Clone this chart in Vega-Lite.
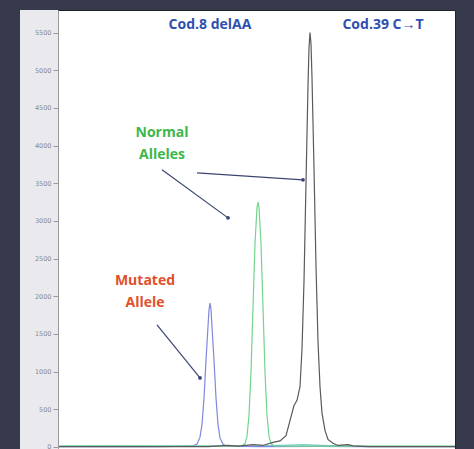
{
  "$schema": "https://vega.github.io/schema/vega-lite/v6.json",
  "width": 435,
  "height": 439,
  "autosize": {"type": "none"},
  "padding": {"left": 20, "top": 10, "right": 19, "bottom": 0},
  "background": "#363a4c",
  "config": {"view": {"fill": "white", "stroke": "#222", "strokeWidth": 1}},
  "datasets": {
    "strip": [{"x": -38, "x2": 0, "y": -27, "y2": 5800}],
    "traces": [
      {"dye": "teal", "x": 0, "v": 12}, {"dye": "teal", "x": 60, "v": 14}, {"dye": "teal", "x": 120, "v": 10}, {"dye": "teal", "x": 190, "v": 12}, {"dye": "teal", "x": 232, "v": 25}, {"dye": "teal", "x": 245, "v": 30}, {"dye": "teal", "x": 262, "v": 20}, {"dye": "teal", "x": 300, "v": 8}, {"dye": "teal", "x": 397, "v": 8},
      {"dye": "blue", "x": 0, "v": 5}, {"dye": "blue", "x": 100, "v": 5}, {"dye": "blue", "x": 134, "v": 10}, {"dye": "blue", "x": 139, "v": 40}, {"dye": "blue", "x": 142, "v": 130}, {"dye": "blue", "x": 144, "v": 300}, {"dye": "blue", "x": 146, "v": 650}, {"dye": "blue", "x": 148, "v": 1150}, {"dye": "blue", "x": 150, "v": 1600}, {"dye": "blue", "x": 151, "v": 1820}, {"dye": "blue", "x": 152, "v": 1910}, {"dye": "blue", "x": 153, "v": 1830}, {"dye": "blue", "x": 154, "v": 1600}, {"dye": "blue", "x": 156, "v": 1150}, {"dye": "blue", "x": 158, "v": 650}, {"dye": "blue", "x": 160, "v": 300}, {"dye": "blue", "x": 162, "v": 120}, {"dye": "blue", "x": 165, "v": 35}, {"dye": "blue", "x": 169, "v": 10}, {"dye": "blue", "x": 200, "v": 5}, {"dye": "blue", "x": 260, "v": 8}, {"dye": "blue", "x": 300, "v": 5}, {"dye": "blue", "x": 397, "v": 5},
      {"dye": "green", "x": 0, "v": 10}, {"dye": "green", "x": 150, "v": 10}, {"dye": "green", "x": 184, "v": 15}, {"dye": "green", "x": 187, "v": 45}, {"dye": "green", "x": 189, "v": 140}, {"dye": "green", "x": 191, "v": 420}, {"dye": "green", "x": 193, "v": 1000}, {"dye": "green", "x": 195, "v": 1850}, {"dye": "green", "x": 197, "v": 2700}, {"dye": "green", "x": 199, "v": 3180}, {"dye": "green", "x": 200, "v": 3250}, {"dye": "green", "x": 201, "v": 3180}, {"dye": "green", "x": 203, "v": 2700}, {"dye": "green", "x": 205, "v": 1850}, {"dye": "green", "x": 207, "v": 1000}, {"dye": "green", "x": 209, "v": 420}, {"dye": "green", "x": 211, "v": 140}, {"dye": "green", "x": 213, "v": 45}, {"dye": "green", "x": 216, "v": 15}, {"dye": "green", "x": 240, "v": 10}, {"dye": "green", "x": 397, "v": 10},
      {"dye": "black", "x": 0, "v": 5}, {"dye": "black", "x": 150, "v": 5}, {"dye": "black", "x": 170, "v": 20}, {"dye": "black", "x": 180, "v": 10}, {"dye": "black", "x": 195, "v": 30}, {"dye": "black", "x": 205, "v": 20}, {"dye": "black", "x": 215, "v": 60}, {"dye": "black", "x": 222, "v": 80}, {"dye": "black", "x": 228, "v": 150}, {"dye": "black", "x": 232, "v": 350}, {"dye": "black", "x": 236, "v": 550}, {"dye": "black", "x": 239, "v": 620}, {"dye": "black", "x": 242, "v": 800}, {"dye": "black", "x": 244, "v": 1300}, {"dye": "black", "x": 246, "v": 2200}, {"dye": "black", "x": 248, "v": 3500}, {"dye": "black", "x": 250, "v": 4800}, {"dye": "black", "x": 251, "v": 5300}, {"dye": "black", "x": 252, "v": 5500}, {"dye": "black", "x": 253, "v": 5350}, {"dye": "black", "x": 254, "v": 4900}, {"dye": "black", "x": 256, "v": 3700}, {"dye": "black", "x": 258, "v": 2400}, {"dye": "black", "x": 260, "v": 1400}, {"dye": "black", "x": 262, "v": 800}, {"dye": "black", "x": 264, "v": 450}, {"dye": "black", "x": 267, "v": 220}, {"dye": "black", "x": 270, "v": 100}, {"dye": "black", "x": 275, "v": 50}, {"dye": "black", "x": 280, "v": 20}, {"dye": "black", "x": 290, "v": 30}, {"dye": "black", "x": 295, "v": 15}, {"dye": "black", "x": 310, "v": 5}, {"dye": "black", "x": 397, "v": 5}
    ],
    "arrows": [
      {"x": 104, "y": 3679, "x2": 170, "y2": 3041},
      {"x": 139, "y": 3639, "x2": 245, "y2": 3546},
      {"x": 99, "y": 1620, "x2": 142, "y2": 916}
    ],
    "labels": [
      {"x": 152, "y": 5604, "text": "Cod.8 delAA", "kind": "site"},
      {"x": 325, "y": 5604, "text": "Cod.39 C→T", "kind": "site"},
      {"x": 104, "y": 4170, "text": "Normal", "kind": "normal"},
      {"x": 104, "y": 3878, "text": "Alleles", "kind": "normal"},
      {"x": 87, "y": 2205, "text": "Mutated", "kind": "mutated"},
      {"x": 87, "y": 1912, "text": "Allele", "kind": "mutated"}
    ]
  },
  "layer": [
    {
      "data": {"name": "strip"},
      "mark": {"type": "rect", "fill": "#e9e9ee"},
      "encoding": {
        "x": {"field": "x", "type": "quantitative", "scale": {"domain": [-38, 397], "nice": false, "zero": false}, "axis": null},
        "x2": {"field": "x2"},
        "y": {"field": "y", "type": "quantitative", "scale": {"domain": [-27, 5800], "nice": false, "zero": false},
          "axis": {"orient": "left", "offset": -38, "zindex": 1, "values": [0, 500, 1000, 1500, 2000, 2500, 3000, 3500, 4000, 4500, 5000, 5500], "format": "d", "labelOverlap": false, "labelFlush": false, "grid": false, "title": null, "domainColor": "#999", "tickColor": "#999", "tickSize": 5, "labelFontSize": 6.5, "labelColor": "#8a8a8a", "labelPadding": 2, "labelFont": "DejaVu Sans"}},
        "y2": {"field": "y2"}
      }
    },
    {
      "data": {"name": "traces"},
      "mark": {"type": "line", "strokeWidth": 1.2, "clip": true},
      "encoding": {
        "x": {"field": "x", "type": "quantitative", "axis": null},
        "y": {"field": "v", "type": "quantitative",
          "axis": {"orient": "left", "offset": -38, "zindex": 1, "values": [0, 500, 1000, 1500, 2000, 2500, 3000, 3500, 4000, 4500, 5000, 5500], "format": "d", "labelOverlap": false, "labelFlush": false, "grid": false, "title": null, "domainColor": "#999", "tickColor": "#999", "tickSize": 5, "labelFontSize": 6.5, "labelColor": "#8a8a8a", "labelPadding": 2, "labelFont": "DejaVu Sans"}},
        "color": {"field": "dye", "type": "nominal", "scale": {"domain": ["teal", "blue", "green", "black"], "range": ["#6fd0c8", "#7f88dc", "#74d48e", "#5a5a5a"]}, "legend": null},
        "order": {"field": "x", "type": "quantitative"}
      }
    },
    {
      "data": {"name": "arrows"},
      "mark": {"type": "rule", "color": "#3a4670", "strokeWidth": 1.2},
      "encoding": {
        "x": {"field": "x", "type": "quantitative", "axis": null},
        "y": {"field": "y", "type": "quantitative",
          "axis": {"orient": "left", "offset": -38, "zindex": 1, "values": [0, 500, 1000, 1500, 2000, 2500, 3000, 3500, 4000, 4500, 5000, 5500], "format": "d", "labelOverlap": false, "labelFlush": false, "grid": false, "title": null, "domainColor": "#999", "tickColor": "#999", "tickSize": 5, "labelFontSize": 6.5, "labelColor": "#8a8a8a", "labelPadding": 2, "labelFont": "DejaVu Sans"}},
        "x2": {"field": "x2"},
        "y2": {"field": "y2"}
      }
    },
    {
      "data": {"name": "arrows"},
      "mark": {"type": "point", "filled": true, "color": "#3a4670", "size": 14, "opacity": 1},
      "encoding": {
        "x": {"field": "x2", "type": "quantitative", "axis": null},
        "y": {"field": "y2", "type": "quantitative",
          "axis": {"orient": "left", "offset": -38, "zindex": 1, "values": [0, 500, 1000, 1500, 2000, 2500, 3000, 3500, 4000, 4500, 5000, 5500], "format": "d", "labelOverlap": false, "labelFlush": false, "grid": false, "title": null, "domainColor": "#999", "tickColor": "#999", "tickSize": 5, "labelFontSize": 6.5, "labelColor": "#8a8a8a", "labelPadding": 2, "labelFont": "DejaVu Sans"}}
      }
    },
    {
      "data": {"name": "labels"},
      "mark": {"type": "text", "fontSize": 14, "fontWeight": "bold", "font": "Open Sans", "align": "center", "baseline": "middle"},
      "encoding": {
        "x": {"field": "x", "type": "quantitative", "axis": null},
        "y": {"field": "y", "type": "quantitative",
          "axis": {"orient": "left", "offset": -38, "zindex": 1, "values": [0, 500, 1000, 1500, 2000, 2500, 3000, 3500, 4000, 4500, 5000, 5500], "format": "d", "labelOverlap": false, "labelFlush": false, "grid": false, "title": null, "domainColor": "#999", "tickColor": "#999", "tickSize": 5, "labelFontSize": 6.5, "labelColor": "#8a8a8a", "labelPadding": 2, "labelFont": "DejaVu Sans"}},
        "text": {"field": "text"},
        "color": {"field": "kind", "type": "nominal", "scale": {"domain": ["site", "normal", "mutated"], "range": ["#2f4fb0", "#3cb84a", "#e0502a"]}, "legend": null}
      }
    }
  ],
  "resolve": {"scale": {"color": "independent"}}
}
